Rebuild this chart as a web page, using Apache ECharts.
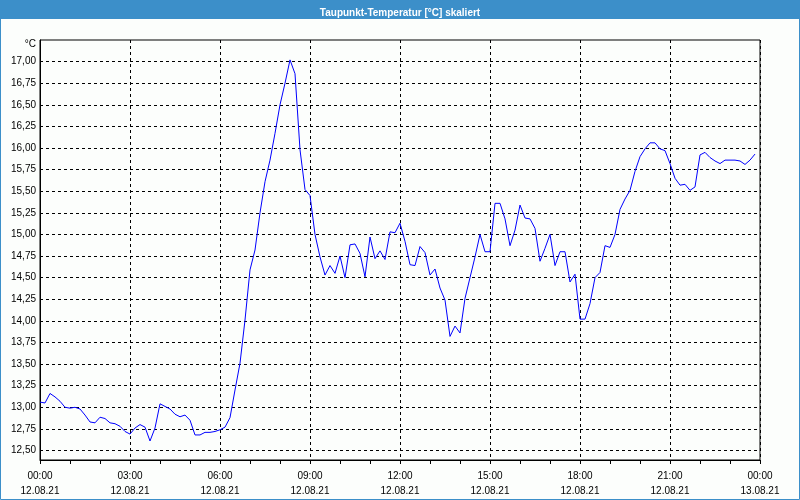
<!DOCTYPE html>
<html>
<head>
<meta charset="utf-8">
<script src="https://cdn.jsdelivr.net/npm/echarts@6/dist/echarts.min.js"></script>
<style>
  html, body { margin: 0; padding: 0; background: #fcfefc; }
  #chart { width: 800px; height: 500px; }
</style>
</head>
<body>
<div id="chart"></div>
<script>
// Taupunkt-Temperatur, 10-Minuten-Werte ab 12.08.21 00:00
const sampleMinutes = 10;
const dewPoint = [
  13.06, 13.05, 13.16, 13.12, 13.07, 13.00, 12.99, 13.00, 12.98, 12.91,
  12.83, 12.82, 12.885, 12.87, 12.82, 12.81, 12.78, 12.72, 12.69, 12.76,
  12.80, 12.77, 12.61, 12.76, 13.04, 13.01, 12.98, 12.92, 12.89, 12.91,
  12.85, 12.68, 12.68, 12.71, 12.71, 12.72, 12.74, 12.77, 12.88, 13.20,
  13.51, 14.01, 14.59, 14.82, 15.25, 15.61, 15.86, 16.17, 16.50, 16.75,
  17.02, 16.86, 15.98, 15.52, 15.45, 15.00, 14.74, 14.53, 14.64, 14.55,
  14.75, 14.50, 14.88, 14.89, 14.78, 14.51, 14.97, 14.72, 14.81, 14.71,
  15.03, 15.02, 15.13, 14.92, 14.65, 14.64, 14.86, 14.79, 14.53, 14.60,
  14.38, 14.24, 13.82, 13.94, 13.86, 14.26, 14.50, 14.74, 15.00, 14.80,
  14.80, 15.36, 15.36, 15.18, 14.87, 15.05, 15.34, 15.19, 15.18, 15.07,
  14.69, 14.84, 15.00, 14.64, 14.80, 14.80, 14.45, 14.54, 14.02, 14.02,
  14.20, 14.50, 14.56, 14.87, 14.85, 15.00, 15.29, 15.41, 15.51, 15.73,
  15.90, 15.99, 16.06, 16.06, 15.99, 15.97, 15.82, 15.65, 15.57, 15.58,
  15.51, 15.55, 15.92, 15.95, 15.89, 15.85, 15.82, 15.86, 15.86, 15.86,
  15.85, 15.81, 15.86, 15.93
];
const xTickLabels = [
  '00:00\n12.08.21', '03:00\n12.08.21', '06:00\n12.08.21', '09:00\n12.08.21',
  '12:00\n12.08.21', '15:00\n12.08.21', '18:00\n12.08.21', '21:00\n12.08.21',
  '00:00\n13.08.21'
];
const yTicks = [
  12.50, 12.75, 13.00, 13.25, 13.50, 13.75, 14.00, 14.25, 14.50,
  14.75, 15.00, 15.25, 15.50, 15.75, 16.00, 16.25, 16.50, 16.75, 17.00
];

const seriesData = dewPoint.map((v, i) => [i * sampleMinutes, v]);
const font = 'Liberation Sans, Arial, sans-serif';

let chart = echarts.init(document.getElementById('chart'));
let option = {
  backgroundColor: '#fcfefc',
  animation: false,
  title: {
    text: 'Taupunkt-Temperatur [°C] skaliert',
    left: 'center',
    top: 3,
    textStyle: { color: '#ffffff', fontSize: 10, fontWeight: 'bold', fontFamily: font }
  },
  graphic: [
    { type: 'rect', z: -1, shape: { x: 0, y: 0, width: 800, height: 19 }, style: { fill: '#3c8fc9' } },
    { type: 'rect', z: -1, shape: { x: 0.5, y: 0.5, width: 799, height: 499 }, style: { fill: 'none', stroke: '#3c8fc9', lineWidth: 1 } }
  ],
  grid: {
    left: 40, right: 40, top: 40, bottom: 40,
    show: true, borderColor: '#000', borderWidth: 1
  },
  xAxis: {
    type: 'value',
    min: 0, max: 1440, interval: 180,
    axisLine: { lineStyle: { color: '#000', width: 1 } },
    axisTick: { show: true, length: 4, lineStyle: { color: '#000' } },
    minorTick: { show: true, splitNumber: 3, length: 4, lineStyle: { color: '#000' } },
    splitLine: { show: true, lineStyle: { color: '#000', type: [3, 3], width: 1 } },
    axisLabel: {
      margin: 9, color: '#000', fontSize: 10, fontFamily: font, lineHeight: 15,
      formatter: v => xTickLabels[Math.round(v / 180)]
    }
  },
  yAxis: {
    type: 'value',
    min: 12.39, max: 17.25,
    name: '°C',
    nameLocation: 'end',
    nameGap: -4,
    nameTextStyle: { color: '#000', fontSize: 10, fontFamily: font, align: 'right', verticalAlign: 'middle', padding: [0, 4, 0, 0] },
    axisLine: { show: true, lineStyle: { color: '#000', width: 1 } },
    axisTick: { show: false, customValues: yTicks },
    splitLine: { show: true, lineStyle: { color: '#000', type: [3, 3], width: 1 } },
    axisLabel: {
      customValues: yTicks,
      margin: 4, color: '#000', fontSize: 10, fontFamily: font,
      formatter: v => v.toFixed(2).replace('.', ',')
    }
  },
  series: [{
    name: 'Taupunkt',
    type: 'line',
    data: seriesData,
    showSymbol: false,
    lineStyle: { color: '#0000ff', width: 1 },
    itemStyle: { color: '#0000ff' }
  }]
};
chart.setOption(option);
</script>
</body>
</html>
